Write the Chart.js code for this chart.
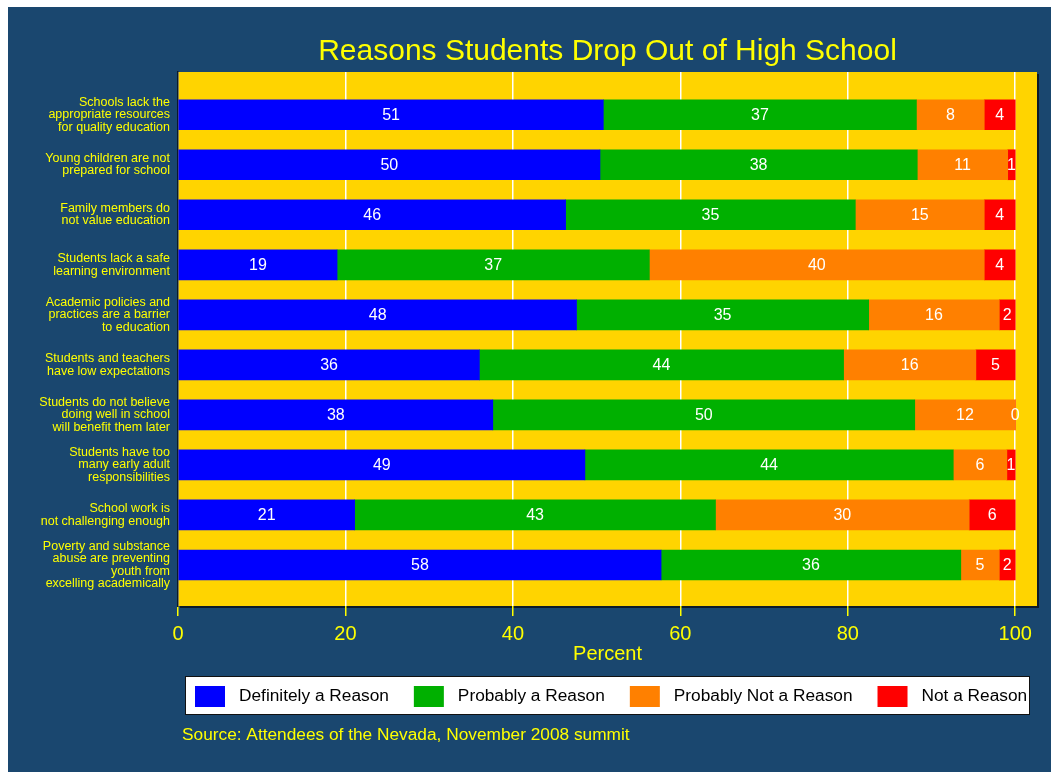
<!DOCTYPE html>
<html lang="en">
<head>
<meta charset="UTF-8">
<title>Reasons Students Drop Out of High School</title>
<script src="https://cdn.jsdelivr.net/npm/chart.js"></script>
<style>
    html, body { margin: 0; padding: 0; background: #fff; }
    canvas { display: block; }
</style>
</head>
<body>
<canvas id="dropChart" width="1051" height="772"></canvas>
<script>
// Categories, top to bottom
const categories = [
    ['Schools lack the', 'appropriate resources', 'for quality education'],
    ['Young children are not', 'prepared for school'],
    ['Family members do', 'not value education'],
    ['Students lack a safe', 'learning environment'],
    ['Academic policies and', 'practices are a barrier', 'to education'],
    ['Students and teachers', 'have low expectations'],
    ['Students do not believe', 'doing well in school', 'will benefit them later'],
    ['Students have too', 'many early adult', 'responsibilities'],
    ['School work is', 'not challenging enough'],
    ['Poverty and substance', 'abuse are preventing', 'youth from', 'excelling academically']
];

// Percent of attendees
const definitely  = [50.8, 50.4, 46.3, 19.0, 47.6, 36.0, 37.6, 48.6, 21.1, 57.7];
const probably    = [37.4, 37.9, 34.6, 37.3, 34.9, 43.5, 50.4, 44.0, 43.1, 35.8];
const probablyNot = [8.1, 10.8, 15.4, 40.0, 15.6, 15.8, 12.0, 6.4, 30.3, 4.6];
const notReason   = [3.7, 0.9, 3.7, 3.7, 1.9, 4.7, 0.0, 1.0, 5.5, 1.9];

const seriesNames = ['Definitely a Reason', 'Probably a Reason', 'Probably Not a Reason', 'Not a Reason'];
const xTicks = [0, 20, 40, 60, 80, 100];

const NAVY = '#1a476f';
const YELLOW = '#ffff00';
const PLOT_BG = '#ffd400';
const SHADOW = '#0c1a28';
const COLORS = ['#0000ff', '#00b000', '#ff8000', '#ff0000'];
const FONT = '"Liberation Sans", Arial, Helvetica, sans-serif';

Chart.defaults.font.family = FONT;

// navy page, drop shadow and yellow plot region
const backdrop = {
    id: 'backdrop',
    beforeDraw(chart) {
        const { ctx, chartArea: a, width, height } = chart;
        ctx.save();
        ctx.fillStyle = NAVY;
        ctx.fillRect(8, 7, width - 8, height - 7);
        ctx.fillStyle = SHADOW;
        ctx.fillRect(a.left + 2, a.top + 2, a.right - a.left, a.bottom - a.top);
        ctx.fillStyle = PLOT_BG;
        ctx.fillRect(a.left, a.top, a.right - a.left, a.bottom - a.top);
        ctx.restore();
    }
};

// white value labels in the middle of each segment
const segmentLabels = {
    id: 'segmentLabels',
    afterDatasetsDraw(chart) {
        const ctx = chart.ctx;
        ctx.save();
        ctx.fillStyle = '#ffffff';
        ctx.font = '16px ' + FONT;
        ctx.textAlign = 'center';
        ctx.textBaseline = 'middle';
        chart.data.datasets.forEach((ds, i) => {
            chart.getDatasetMeta(i).data.forEach((bar, j) => {
                ctx.fillText(String(Math.round(ds.data[j])), (bar.x + bar.base) / 2, bar.y + 1);
            });
        });
        ctx.restore();
    }
};

// boxed legend row and source note, Stata style
const legendAndNote = {
    id: 'legendAndNote',
    afterDraw(chart) {
        const ctx = chart.ctx;
        ctx.save();
        ctx.fillStyle = '#ffffff';
        ctx.fillRect(185, 676, 845, 39);
        ctx.strokeStyle = '#111111';
        ctx.lineWidth = 1;
        ctx.strokeRect(185.5, 676.5, 844, 38);

        ctx.font = '17.3px ' + FONT;
        ctx.textBaseline = 'middle';
        ctx.textAlign = 'left';
        let x = 195;
        chart.data.datasets.forEach(ds => {
            ctx.fillStyle = ds.backgroundColor;
            ctx.fillRect(x, 686, 30, 21);
            ctx.fillStyle = '#000000';
            ctx.fillText(ds.label, x + 44, 696.5);
            x += 44 + ctx.measureText(ds.label).width + 25;
        });

        ctx.fillStyle = YELLOW;
        ctx.fillText('Source: Attendees of the Nevada, November 2008 summit', 182, 735);
        ctx.restore();
    }
};

const seriesData = [definitely, probably, probablyNot, notReason];

new Chart(document.getElementById('dropChart'), {
    type: 'bar',
    data: {
        labels: categories.map((c, i) => i),
        datasets: seriesNames.map((name, i) => ({
            label: name,
            data: seriesData[i],
            backgroundColor: COLORS[i],
            borderWidth: 0,
            barThickness: 30
        }))
    },
    options: {
        indexAxis: 'y',
        responsive: false,
        animation: false,
        devicePixelRatio: 1,
        layout: {
            autoPadding: false,
            padding: { top: 0, left: 0, right: 14, bottom: 106 }
        },
        plugins: {
            legend: { display: false },
            tooltip: { enabled: false },
            title: {
                display: true,
                fullSize: false,
                text: 'Reasons Students Drop Out of High School',
                color: YELLOW,
                font: { size: 30, weight: 'normal' },
                padding: { top: 34, bottom: 2 }
            }
        },
        scales: {
            x: {
                type: 'linear',
                stacked: true,
                min: 0,
                max: 102.6,
                afterBuildTicks: scale => { scale.ticks = xTicks.map(v => ({ value: v })); },
                afterFit: scale => { scale.height = 60; },
                grid: {
                    color: '#ffffff',
                    lineWidth: 1.5,
                    tickColor: YELLOW,
                    tickLength: 10
                },
                border: { display: false },
                ticks: {
                    color: YELLOW,
                    font: { size: 20 },
                    padding: 6,
                    maxRotation: 0
                },
                title: {
                    display: true,
                    text: 'Percent',
                    color: YELLOW,
                    font: { size: 20 },
                    padding: 0
                }
            },
            y: {
                type: 'linear',
                stacked: true,
                reverse: true,
                offset: false,
                min: -0.854,
                max: 9.82,
                afterBuildTicks: scale => { scale.ticks = categories.map((c, i) => ({ value: i })); },
                afterFit: scale => { scale.width = 178; },
                grid: { display: false, drawTicks: false, offset: false },
                border: { display: true, color: SHADOW, width: 1.5 },
                ticks: {
                    color: YELLOW,
                    font: { size: 12.5, lineHeight: 1.0 },
                    padding: 8,
                    callback: v => categories[v]
                }
            }
        }
    },
    plugins: [backdrop, segmentLabels, legendAndNote]
});
</script>
</body>
</html>
